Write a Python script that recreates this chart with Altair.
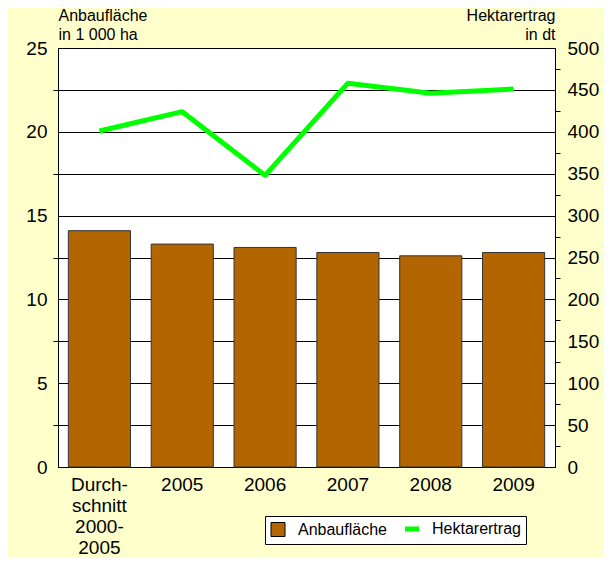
import altair as alt
import pandas as pd

categories = ["Durch-\nschnitt\n2000-\n2005", "2005", "2006", "2007", "2008", "2009"]
anbauflaeche = [14.1, 13.3, 13.1, 12.8, 12.6, 12.8]
hektarertrag = [401, 424, 348, 458, 446, 451]
series = ["Anbaufläche", "Hektarertrag"]
series_colors = ["#B36500", "#00FF00"]
left_ticks = [0, 2.5, 5, 7.5, 10, 12.5, 15, 17.5, 20, 22.5, 25]
right_ticks = [0, 25, 50, 75, 100, 125, 150, 175, 200, 225, 250, 275, 300,
               325, 350, 375, 400, 425, 450, 475, 500]

df = pd.DataFrame({
    "cat": categories,
    "area": anbauflaeche,
    "yield": hektarertrag,
    "s1": [series[0]] * len(categories),
})

x_enc = alt.X(
    "cat:N",
    sort=categories,
    scale=alt.Scale(paddingInner=0.25, paddingOuter=0.125),
    axis=alt.Axis(
        title=None, labelAngle=0, ticks=False, labelPadding=8,
        labelExpr="split(datum.label, '\\n')", labelLineHeight=21,
        labelFontSize=19, labelColor="black", domainColor="black",
        labelBaseline="top",
    ),
)

bars = alt.Chart(df).mark_bar().encode(
    x=x_enc,
    y=alt.Y(
        "area:Q",
        scale=alt.Scale(domain=[0, 25], nice=False),
        axis=alt.Axis(
            values=left_ticks,
            labelExpr="datum.value % 5 == 0 ? datum.label : ''",
            grid=True, gridColor="black", gridOpacity=1, gridWidth=1,
            tickSize=5, tickColor={"condition": {"test": "datum.value % 5 == 0", "value": "transparent"}, "value": "black"},
            domainColor="black", labelFontSize=19, labelColor="black", labelPadding=6,
            title=["Anbaufläche", "in 1 000 ha"], titleAngle=0, titleAlign="left",
            titleX=0, titleY=-28, titleBaseline="alphabetic", titleFontSize=16,
            titleFontWeight="normal", titleLineHeight=19, titleColor="black",
        ),
    ),
    color=alt.Color(
        "s1:N",
        scale=alt.Scale(domain=series, range=series_colors),
        legend=alt.Legend(
            title=None, orient="none", legendX=207, legendY=468,
            direction="horizontal", fillColor="white", strokeColor="black",
            padding=5, labelFontSize=16, labelColor="black", symbolSize=196,
            symbolOpacity=1, columnPadding=8, labelOffset=12,
            symbolType=alt.ExprRef(expr="datum.value == 'Hektarertrag' ? 'stroke' : 'square'"),
            symbolStrokeColor=alt.ExprRef(expr="datum.value == 'Hektarertrag' ? '#00FF00' : 'black'"),
            symbolStrokeWidth=alt.ExprRef(expr="datum.value == 'Hektarertrag' ? 5 : 1"),
        ),
    ),
)

outline = alt.Chart(df).mark_bar(filled=False, stroke="#333333", strokeWidth=1).encode(
    x=alt.X("cat:N", sort=categories),
    y=alt.Y("area:Q"),
)

line = alt.Chart(df).mark_line(color="#00FF00", strokeWidth=5, strokeJoin="round").encode(
    x=alt.X("cat:N", sort=categories),
    y=alt.Y(
        "yield:Q",
        scale=alt.Scale(domain=[0, 500], nice=False),
        axis=alt.Axis(
            orient="right", values=right_ticks,
            labelExpr="datum.value % 50 == 0 ? datum.label : ''",
            grid=False, tickSize=5,
            tickColor={"condition": {"test": "datum.value % 50 == 0", "value": "transparent"}, "value": "black"},
            domainColor="black", labelFontSize=19, labelColor="black", labelPadding=7,
            title=["Hektarertrag", "in dt"], titleAngle=0, titleAlign="right",
            titleX=0, titleY=-28, titleBaseline="alphabetic", titleFontSize=16,
            titleFontWeight="normal", titleLineHeight=19, titleColor="black",
        ),
    ),
)

left = alt.layer(bars, outline)
chart = alt.layer(left, line).resolve_scale(y="independent").properties(
    width=497, height=419,
    autosize=alt.AutoSizeParams(type="none"),
    padding={"left": 50, "top": 40, "right": 49, "bottom": 91},
    background="#FFFFCC",
).configure(font="Liberation Sans").configure_view(
    stroke="black", strokeWidth=1, fill="white"
)

chart.save("out.html", embed_options={"renderer": "svg", "actions": False})
